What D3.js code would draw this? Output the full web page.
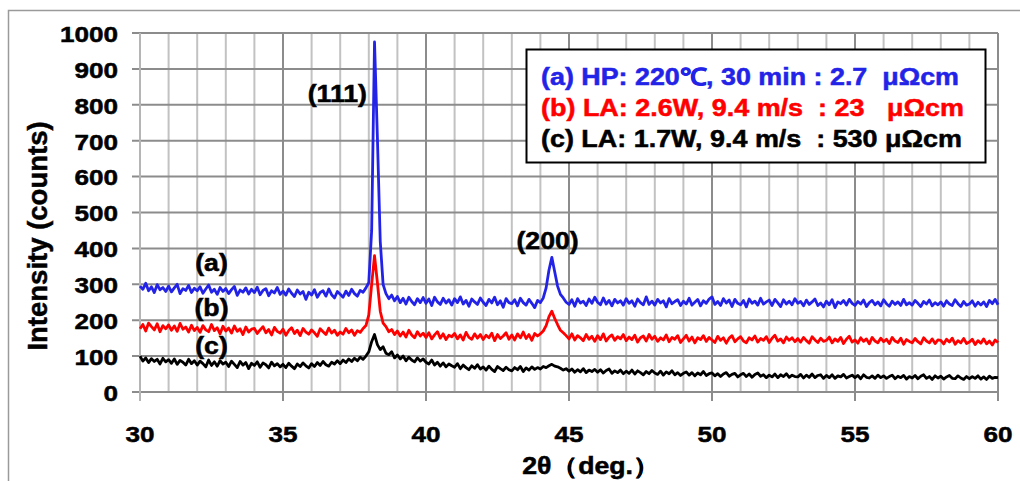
<!DOCTYPE html>
<html>
<head>
<meta charset="utf-8">
<script src="https://cdn.jsdelivr.net/npm/d3@7"></script>
<style>
  body { margin: 0; background: #fff; }
  svg { display: block; }
  text { font-family: "Liberation Sans", Arial, sans-serif; font-weight: bold;
         stroke-width: 0.5px; paint-order: stroke; }
</style>
</head>
<body>
<div class="container"></div>
<script>
// scan: 30.0 .. 60.0 deg, 0.1 deg per point
var angleStart = 30;
var angleStep = 0.1;

// (a) HP 220C
var intensityA = [
  295,286,303,282,293,277,299,285,291,280,
  295,279,290,300,274,288,283,297,277,289,
  282,293,275,287,298,278,286,272,291,280,
  288,274,285,294,269,284,278,290,273,286,
  277,292,271,283,288,268,282,276,291,272,
  281,270,287,275,266,284,273,280,258,278,
  270,285,264,277,282,267,287,271,262,280,
  272,264,281,269,286,274,267,283,278,290,
  305,450,975,710,420,300,274,260,270,254,
  266,249,261,245,264,252,243,260,249,263,
  247,259,241,264,251,244,261,248,257,242,
  260,249,265,245,255,239,259,251,244,262,
  250,241,258,248,264,243,254,236,260,249,
  246,257,240,261,249,242,258,247,235,255,
  249,262,290,340,375,335,295,272,262,250,
  244,257,239,260,248,253,241,259,247,264,
  250,243,262,245,255,240,258,248,254,242,
  260,247,254,239,259,249,243,265,244,253,
  242,258,248,254,237,260,246,252,257,241,
  253,245,261,242,250,258,240,254,247,259,
  265,244,252,241,260,248,256,238,258,247,
  243,255,237,259,247,253,242,261,245,251,
  256,241,258,248,238,257,245,253,243,260,
  247,252,240,256,244,251,259,241,248,237,
  253,243,257,235,251,246,255,242,258,247,
  241,252,245,256,238,249,255,243,251,240,
  257,246,239,253,244,251,241,258,243,249,
  242,255,247,238,252,245,256,240,249,243,
  251,239,254,245,241,257,246,238,252,242,
  245,254,239,250,242,251,238,255,246,258,
  243
];

// (b) LA 2.6 W
var intensityB = [
  176,188,170,192,182,173,190,168,185,176,
  187,172,184,169,191,175,181,167,186,171,
  180,166,185,173,168,188,171,179,162,183,
  170,178,164,184,169,176,160,181,167,175,
  177,163,173,182,165,174,159,180,169,164,
  175,158,171,179,163,172,157,177,167,161,
  173,165,155,176,168,160,178,164,172,158,
  167,161,177,165,173,158,171,166,177,185,
  215,300,380,305,225,192,182,168,174,160,
  170,156,167,153,172,159,151,168,156,164,
  152,165,148,159,168,150,162,146,158,154,
  163,148,159,145,166,152,147,162,150,160,
  146,158,151,164,143,160,149,156,165,147,
  159,145,162,151,167,149,160,144,163,156,
  162,170,185,210,225,205,188,172,165,157,
  148,162,145,157,151,143,160,147,155,141,
  157,146,162,142,153,159,144,154,148,160,
  143,153,146,158,139,151,156,142,160,147,
  155,141,151,145,159,140,152,147,157,138,
  148,158,142,153,137,151,146,157,141,152,
  145,138,155,144,151,136,150,157,140,148,
  154,142,137,151,145,156,139,149,144,154,
  138,150,158,142,148,137,153,144,151,140,
  149,139,152,143,136,154,145,138,150,141,
  144,153,137,148,141,152,135,147,155,139,
  145,136,151,141,148,134,152,142,137,150,
  140,147,135,152,142,138,150,133,146,141,
  137,149,140,134,151,142,137,148,135,145,
  144,134,147,139,150,133,143,137,149,135,
  139,147,132,143,136,148,134,142,131,145,
  138
];

// (c) LA 1.7 W
var intensityC = [
  100,86,95,82,93,85,91,78,94,84,
  90,80,92,77,88,83,75,91,79,87,
  75,86,79,70,89,74,84,72,87,78,
  83,71,86,77,68,85,75,82,65,80,
  74,84,69,81,76,67,83,73,79,70,
  77,68,80,72,65,78,71,81,73,67,
  79,71,82,74,85,76,72,83,78,87,
  79,89,82,92,85,94,87,97,91,100,
  112,140,160,132,118,126,108,104,112,95,
  103,92,100,87,97,89,84,95,86,92,
  83,78,89,75,83,72,81,70,78,73,
  69,79,65,75,68,62,73,66,76,64,
  70,61,72,63,57,71,65,60,69,62,
  59,68,62,71,57,67,61,70,63,68,
  64,71,68,73,77,72,70,66,61,65,
  58,64,55,62,56,65,54,61,57,63,
  55,62,53,60,64,52,59,54,61,51,
  58,52,61,50,59,54,48,57,51,60,
  53,49,58,47,56,51,59,48,54,46,
  52,56,47,54,45,53,48,57,46,51,
  53,45,51,43,50,54,44,49,52,42,
  48,52,43,50,41,49,53,44,48,40,
  47,42,50,40,48,43,51,41,47,43,
  42,49,39,47,41,50,40,46,48,38,
  46,40,48,38,45,42,49,39,43,47,
  40,46,37,48,41,39,45,38,47,40,
  45,38,43,47,37,44,40,46,36,43,
  39,46,37,44,48,38,43,35,45,39,
  44,36,42,46,38,37,45,39,35,43,
  37,43,38,45,36,42,35,44,38,41,
  40
];

var seriesColors = ["#2323e8", "#ff0000", "#000000"];
var seriesTags   = ["(a)", "(b)", "(c)"];
var tagValues    = [360, 235, 128];   // where the (a)(b)(c) tags sit, in counts
var tagAngle     = 32.5;

var peakLabels = ["(111)", "(200)"];
var peakAngles = [36.9, 44.25];
var peakValues = [830, 422];

var xTicks = [30, 35, 40, 45, 50, 55, 60];
var yTicks = [0, 100, 200, 300, 400, 500, 600, 700, 800, 900, 1000];

var legendLines = [
  "(a) HP: 220\u2103, 30 min : 2.7  \u03bc\u03a9cm",
  "(b) LA: 2.6W, 9.4 m/s  : 23   \u03bc\u03a9cm",
  "(c) LA: 1.7W, 9.4 m/s  : 530 \u03bc\u03a9cm"
];
var legendWidths = [418, 423, 421];

var width = 1020;
var height = 481;
var stretch = 1.16;

var svg = d3.select(".container").append("svg")
            .attr("width", width)
            .attr("height", height);

// outer frame
svg.append("rect")
   .attr("x", 8.5).attr("y", 10.5)
   .attr("width", 1030).attr("height", 500)
   .attr("fill", "none")
   .attr("stroke", "#9a9a9a")
   .attr("stroke-width", 1.5);

var x = d3.scaleLinear().domain([30, 60]).range([140, 998]);
var y = d3.scaleLinear().domain([0, 1000]).range([392, 33]);

var angles = intensityA.map((d, i) => +(angleStart + i * angleStep).toFixed(1));

// grid
var minorX = d3.range(30, 61, 1).filter(d => d % 5 !== 0);
svg.append("g").selectAll("line")
   .data(minorX).join("line")
   .attr("x1", d => x(d)).attr("x2", d => x(d))
   .attr("y1", y(1000)).attr("y2", y(0))
   .attr("stroke", "#c2c2c2").attr("stroke-width", 2);

svg.append("g").selectAll("line")
   .data(yTicks).join("line")
   .attr("x1", 132).attr("x2", x(60))
   .attr("y1", d => y(d)).attr("y2", d => y(d))
   .attr("stroke", "#8c8c8c").attr("stroke-width", 2);

svg.append("g").selectAll("line")
   .data(xTicks).join("line")
   .attr("x1", d => x(d)).attr("x2", d => x(d))
   .attr("y1", y(1000)).attr("y2", y(0) + 9)
   .attr("stroke", d => d === 30 ? "#b5b5b5" : "#8c8c8c")
   .attr("stroke-width", 2);

// stretched text helper
function label(sel, tx, ty, str, anchor, size, color) {
  return sel.append("text")
            .attr("transform", `translate(${tx},${ty}) scale(${stretch},1)`)
            .attr("text-anchor", anchor)
            .attr("dominant-baseline", "central")
            .attr("fill", color || "#000")
            .attr("stroke", color || "#000")
            .style("font-size", size + "px")
            .style("white-space", "pre")
            .text(str);
}

var ylab = svg.append("g");
yTicks.forEach(d => label(ylab, 118, y(d) + 1, d, "end", 22.5));

var xlab = svg.append("g");
xTicks.forEach(d => label(xlab, x(d), 434, d, "middle", 22.5));

label(svg, 591, 466, "2\u03b8\uff08deg.\uff09", "middle", 23);

svg.append("text")
   .attr("transform", "translate(37,236) rotate(-90)")
   .attr("text-anchor", "middle")
   .attr("dominant-baseline", "central")
   .attr("stroke", "#000")
   .style("font-size", "27.5px")
   .text("Intensity (counts)");

// spectra
var line = d3.line()
             .x((d, i) => x(angles[i]))
             .y(d => y(d));

svg.append("g").selectAll("path")
   .data([intensityA, intensityB, intensityC]).join("path")
   .attr("d", line)
   .attr("fill", "none")
   .attr("stroke", (d, i) => seriesColors[i])
   .attr("stroke-width", 2.8)
   .attr("stroke-linejoin", "round");

// series tags and peak labels
var tags = svg.append("g");
seriesTags.forEach((t, i) => label(tags, x(tagAngle), y(tagValues[i]), t, "middle", 23));
peakLabels.forEach((t, i) => label(tags, x(peakAngles[i]), y(peakValues[i]), t, "middle", 23));

// legend
var legend = svg.append("g");
legend.append("rect")
      .attr("x", 526.5).attr("y", 49.5)
      .attr("width", 459).attr("height", 113)
      .attr("fill", "#fff")
      .attr("stroke", "#000")
      .attr("stroke-width", 2);

legendLines.forEach((t, i) => {
  legend.append("text")
        .attr("x", 541)
        .attr("y", 77 + i * 31)
        .attr("dominant-baseline", "central")
        .attr("textLength", legendWidths[i])
        .attr("lengthAdjust", "spacingAndGlyphs")
        .style("font-size", "23.5px")
        .style("white-space", "pre")
        .attr("fill", seriesColors[i])
        .attr("stroke", seriesColors[i])
        .text(t);
});
</script>
</body>
</html>
